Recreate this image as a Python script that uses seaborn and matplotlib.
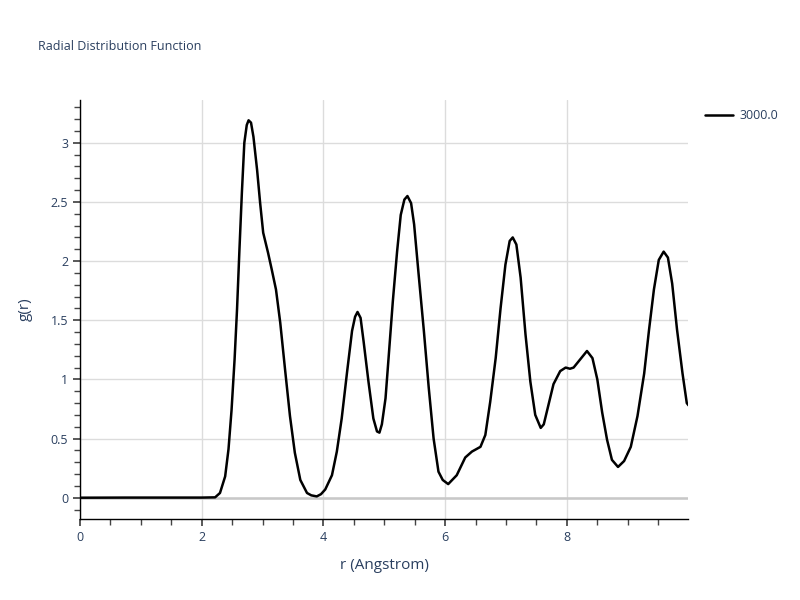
import matplotlib
matplotlib.use("Agg")
import matplotlib.pyplot as plt
from matplotlib.ticker import MultipleLocator
import pandas as pd
import seaborn as sns

# values
r_vals = [0.0, 0.75, 1.5, 2.0, 2.22, 2.30, 2.385, 2.44, 2.49, 2.54, 2.58, 2.62, 2.66,
          2.70, 2.74, 2.77, 2.81, 2.85, 2.91, 2.96, 3.01, 3.09, 3.15, 3.22, 3.29,
          3.37, 3.45, 3.53, 3.62, 3.73, 3.80, 3.89, 3.96, 4.03, 4.14, 4.22, 4.30,
          4.39, 4.47, 4.52, 4.56, 4.61, 4.66, 4.74, 4.82, 4.88, 4.92, 4.96, 5.02,
          5.07, 5.14, 5.21, 5.27, 5.33, 5.38, 5.44, 5.49, 5.56, 5.65, 5.73, 5.81,
          5.89, 5.96, 6.05, 6.19, 6.33, 6.44, 6.58, 6.66, 6.74, 6.83, 6.91, 6.99,
          7.06, 7.11, 7.17, 7.24, 7.32, 7.40, 7.48, 7.57, 7.62, 7.70, 7.78, 7.89,
          7.98, 8.05, 8.11, 8.22, 8.33, 8.42, 8.50, 8.58, 8.66, 8.74, 8.84, 8.94,
          9.05, 9.16, 9.27, 9.35, 9.43, 9.51, 9.59, 9.66, 9.73, 9.81, 9.90, 9.97,
          10.0]
g_vals = [0.0, 0.001, 0.001, 0.001, 0.003, 0.04, 0.18, 0.41, 0.74, 1.17, 1.59, 2.10, 2.58,
          3.00, 3.15, 3.19, 3.17, 3.05, 2.77, 2.49, 2.24, 2.07, 1.93, 1.76, 1.48,
          1.08, 0.69, 0.38, 0.15, 0.04, 0.02, 0.011, 0.03, 0.07, 0.19, 0.39, 0.67,
          1.07, 1.41, 1.53, 1.57, 1.52, 1.32, 0.98, 0.67, 0.56, 0.55, 0.62, 0.84,
          1.18, 1.66, 2.08, 2.39, 2.52, 2.55, 2.49, 2.31, 1.91, 1.41, 0.93, 0.50,
          0.22, 0.15, 0.115, 0.19, 0.34, 0.39, 0.43, 0.53, 0.81, 1.18, 1.60, 1.97,
          2.17, 2.20, 2.14, 1.86, 1.38, 0.98, 0.70, 0.59, 0.62, 0.79, 0.96, 1.07,
          1.10, 1.09, 1.10, 1.17, 1.24, 1.18, 1.00, 0.72, 0.49, 0.32, 0.26, 0.31,
          0.43, 0.69, 1.05, 1.42, 1.76, 2.01, 2.08, 2.03, 1.81, 1.42, 1.05, 0.80,
          0.78]
series_name = "3000.0"

df = pd.DataFrame({"r": r_vals, "g": g_vals, "T": series_name})

sns.set_theme(style="whitegrid")
plt.rcParams["font.family"] = ["Open Sans", "DejaVu Sans"]
text_col = "#2a3f5f"

fig, ax = plt.subplots(figsize=(8, 6), dpi=100)
fig.subplots_adjust(left=0.1, right=0.86, top=0.833, bottom=0.135)

sns.lineplot(data=df, x="r", y="g", hue="T", palette=["black"], linewidth=1.8, ax=ax)
for ln in ax.lines:
    ln.set_solid_joinstyle("round")

ax.axhline(0, color="#c8c8c8", linewidth=1.8, zorder=1)
ax.set_xlim(0, 9.99)
ax.set_ylim(-0.18, 3.36)
ax.xaxis.set_major_locator(MultipleLocator(2))
ax.xaxis.set_minor_locator(MultipleLocator(0.5))
ax.yaxis.set_minor_locator(MultipleLocator(0.1))
ax.set_yticks([0, 0.5, 1, 1.5, 2, 2.5, 3])
ax.set_yticklabels(["0", "0.5", "1", "1.5", "2", "2.5", "3"])
ax.grid(True, which="major", color="#dcdcdc", linewidth=1)
ax.grid(False, which="minor")
for side in ["top", "right"]:
    ax.spines[side].set_visible(False)
for side in ["left", "bottom"]:
    ax.spines[side].set_color("black")
    ax.spines[side].set_linewidth(1)
ax.tick_params(which="both", direction="out", color="#444444", labelcolor=text_col,
               labelsize=9, left=True, bottom=True)
ax.tick_params(which="major", length=5)
ax.tick_params(which="minor", length=4)

ax.set_xlabel("r (Angstrom)", color=text_col, fontsize=11, labelpad=10)
ax.set_ylabel("g(r)", color=text_col, fontsize=11, labelpad=13)
fig.text(0.048, 0.923, "Radial Distribution Function", color=text_col, fontsize=9,
         ha="left", va="center")

leg = ax.legend(loc="upper left", bbox_to_anchor=(1.01, 1.005), frameon=False,
                fontsize=9, handlelength=2.2, handletextpad=0.5)
for t in leg.get_texts():
    t.set_color(text_col)

plt.savefig("out.png", dpi=100)
